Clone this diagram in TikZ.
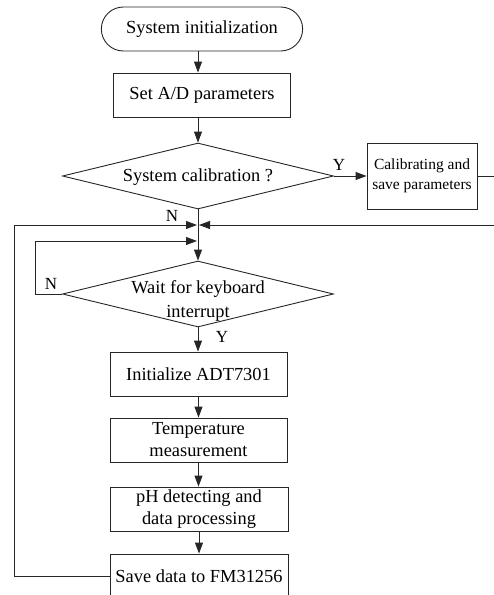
\documentclass[tikz,border=0pt]{standalone}
\usepackage{fontspec}
\setmainfont{Liberation Serif}
\usetikzlibrary{arrows.meta,shapes.geometric,shapes.misc}

\tikzset{
    >={Triangle[length=11pt,width=8pt]},
    flow/.style={line width=0.9pt, draw=black!85},
    terminal/.style={flow, rounded rectangle, minimum width=208pt, minimum height=44pt, font=\fontsize{18.4}{22}\selectfont},
    process/.style={flow, rectangle, minimum width=177pt, minimum height=44pt, align=center, inner sep=0pt, font=\fontsize{18.4}{22}\selectfont},
    decision/.style={flow, diamond, aspect=4.1, inner sep=0pt, minimum width=271pt, minimum height=66pt},
    dtext/.style={align=center, inner sep=0pt, font=\fontsize{18.4}{24}\selectfont},
    yn/.style={inner sep=0pt, font=\fontsize{17}{20}\selectfont},
}

\begin{document}
\begin{tikzpicture}[x=1pt, y=-1pt]
    \useasboundingbox (0,0) rectangle (494,595);

    % Main column
    \node[terminal] (start) at (202,29) {System initialization};
    \node[process] (setad) at (202,95) {Set A/D parameters};
    \node[decision] (cal) at (198,176) {};
    \node[dtext] (cal-text) at (198,177) {System calibration ?};
    \node[process, minimum width=110pt, minimum height=66pt, font=\fontsize{15.5}{20}\selectfont] (calib) at (422,176) {Calibrating and\\save parameters};

    \node[decision] (wait) at (198,294) {};
    \node[dtext] (wait-text) at (198,301) {Wait for keyboard\\interrupt};

    \node[process] (adt) at (198.5,374) {Initialize ADT7301};
    \node[process] (temp) at (198.5,440) {Temperature\\measurement};
    \node[process, minimum width=178pt] (ph) at (199,509) {pH detecting and\\data processing};
    \node[process, minimum width=178pt] (save) at (199,576) {Save data to FM31256};

    % Junctions on the main line
    \coordinate (j1) at (198,225);
    \coordinate (j2) at (198,241);
    \coordinate (outer) at (14,225);
    \coordinate (inner) at (35,294);
    \coordinate (right) at (510,176);

    % Connectors
    \draw[flow, ->] (start.south -| cal.north) -- (setad.north -| cal.north);
    \draw[flow, ->] (setad.south -| cal.north) -- (cal.north);
    \draw[flow, ->] (cal.east) -- (calib.west);
    \draw[flow, ->] (cal.south) -- (wait.north);
    \draw[flow, ->, shorten >=1pt] (calib.east) -- (right) |- (j1);
    \draw[flow, ->, shorten >=1pt] (save.west) -| (outer) -- (j1);
    \draw[flow, ->, shorten >=1pt] (wait.west) -- (inner) |- (j2);
    \draw[flow, ->] (wait.south) -- (wait.south |- adt.north);
    \draw[flow, ->] (adt.south -| temp.north) -- (temp.north);
    \draw[flow, ->] (temp.south) -- (temp.south |- ph.north);
    \draw[flow, ->] (ph.south) -- (save.north);

    % Branch labels
    \node[yn] (y1) at (339,165) {Y};
    \node[yn] (n1) at (172,216) {N};
    \node[yn] (n2) at (51,284) {N};
    \node[yn] (y2) at (222,337) {Y};
\end{tikzpicture}
\end{document}
